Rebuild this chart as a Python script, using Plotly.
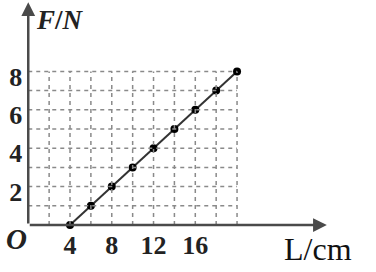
import plotly.graph_objects as go

# data
L_cm = [4, 6, 8, 10, 12, 14, 16, 18, 20]
F_N = [0, 1, 2, 3, 4, 5, 6, 7, 8]
x_ticks = [4, 8, 12, 16]
y_ticks = [2, 4, 6, 8]
grid_x = [2, 4, 6, 8, 10, 12, 14, 16, 18, 20]
grid_y = [1, 2, 3, 4, 5, 6, 7, 8]

W, H = 376, 272
x_range = [-2.706, 33.31]
y_range = [-2.448, 11.72]
x_end = 28.6
y_end = 11.6

serif = "Liberation Serif, Times New Roman, serif"
axis_col = "#4a4a4a"
grid_col = "#8a8a8a"

fig = go.Figure()

shapes = []
for gy in grid_y:
    shapes.append(dict(type="line", xref="x", yref="y", x0=0, x1=max(grid_x), y0=gy, y1=gy,
                       line=dict(color=grid_col, width=1.5, dash="4px,4px")))
for gx in grid_x:
    shapes.append(dict(type="line", xref="x", yref="y", x0=gx, x1=gx, y0=0, y1=max(grid_y),
                       line=dict(color=grid_col, width=1.5, dash="4px,4px")))

fig.add_trace(go.Scatter(x=L_cm, y=F_N, mode="lines+markers",
                         line=dict(color="#333333", width=2),
                         marker=dict(color="black", size=8, line=dict(width=0)),
                         showlegend=False, cliponaxis=False))

annotations = [
    dict(x=x_end, y=0, ax=0, ay=0, xref="x", yref="y", axref="x", ayref="y", text="",
         showarrow=True, arrowhead=2, arrowsize=1.1, arrowwidth=2.5, arrowcolor=axis_col),
    dict(x=0, y=y_end, ax=0, ay=0, xref="x", yref="y", axref="x", ayref="y", text="",
         showarrow=True, arrowhead=2, arrowsize=1.1, arrowwidth=2.5, arrowcolor=axis_col),
    dict(x=3.0, y=10.7, xref="x", yref="y", text="<b><i>F</i>/<i>N</i></b>", showarrow=False,
         font=dict(family=serif, size=27, color="#222")),
    dict(x=-1.1, y=-0.72, xref="x", yref="y", text="<b><i>O</i></b>", showarrow=False,
         font=dict(family=serif, size=29, color="#222")),
    dict(x=27.75, y=-1.25, xref="x", yref="y", text="L/cm", showarrow=False,
         font=dict(family=serif, size=32, color="#111")),
]

tick_font = dict(family=serif, size=26, color="#222", weight="bold")

fig.update_layout(
    width=W, height=H,
    margin=dict(l=0, r=0, t=0, b=0),
    paper_bgcolor="white", plot_bgcolor="white",
    shapes=shapes, annotations=annotations,
    xaxis=dict(range=x_range, showgrid=False, zeroline=False, showline=False,
               tickvals=x_ticks, ticktext=[str(v) for v in x_ticks], ticks="",
               anchor="free", position=(0 - y_range[0]) / (y_range[1] - y_range[0]),
               tickfont=tick_font, ticklabelstandoff=2),
    yaxis=dict(range=y_range, showgrid=False, zeroline=False, showline=False,
               tickvals=y_ticks, ticktext=[str(v) for v in y_ticks], ticks="",
               anchor="free", position=(0 - x_range[0]) / (x_range[1] - x_range[0]),
               tickfont=tick_font, ticklabelstandoff=6, ticklabelshift=5),
)

fig.write_html("out.html")
